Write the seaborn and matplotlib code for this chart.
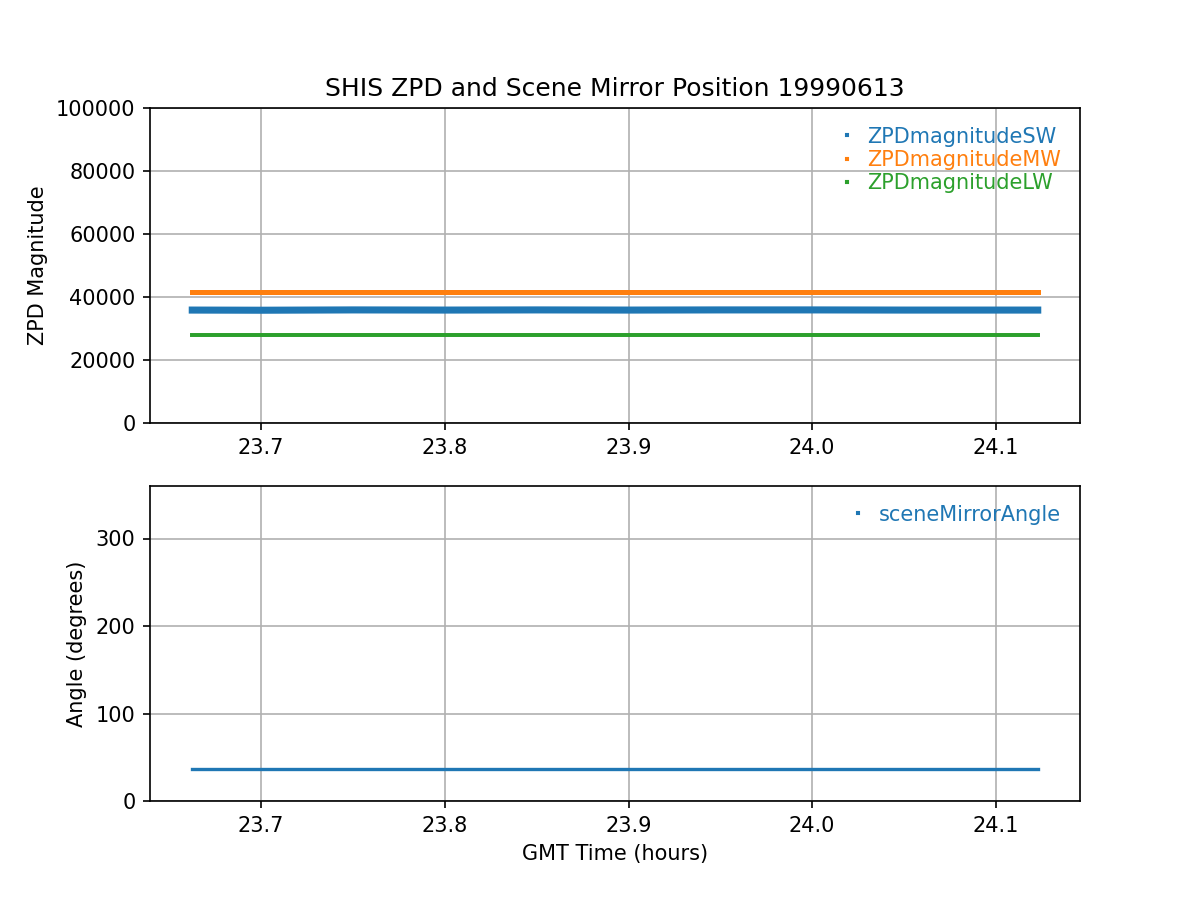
import numpy as np
import pandas as pd
import matplotlib
matplotlib.use("Agg")
import matplotlib.pyplot as plt
from matplotlib.lines import Line2D
import seaborn as sns
color = sns.color_palette()

# GMT time samples (hours)
time_hours = [23.6625, 23.70, 23.75, 23.80, 23.85, 23.90, 23.95, 24.00, 24.05, 24.1228]

zpd_sw = [35850, 35800, 35900, 35850, 35900, 35850, 35900, 35900, 35850, 35850]
zpd_mw = [41450, 41450, 41450, 41450, 41450, 41450, 41450, 41450, 41450, 41450]
zpd_lw = [28050, 28050, 28050, 28050, 28050, 28050, 28050, 28050, 28050, 28050]
mirror_angle = [36.5, 36.5, 36.5, 36.5, 36.5, 36.5, 36.5, 36.5, 36.5, 36.5]

zpd_names = ["ZPDmagnitudeSW", "ZPDmagnitudeMW", "ZPDmagnitudeLW"]
zpd_values = [zpd_sw, zpd_mw, zpd_lw]
widths = [3.4, 2.4, 1.9]

fig, (ax1, ax2) = plt.subplots(2, 1, figsize=(8, 6), dpi=150)

for i, (name, vals) in enumerate(zip(zpd_names, zpd_values)):
    sns.lineplot(x=time_hours, y=vals, ax=ax1, color=color[i], linewidth=widths[i], legend=False)

leg_kw = dict(loc='upper right', frameon=False, handlelength=0.4, handletextpad=0.8, labelspacing=0.15)

handles = [Line2D([], [], marker='s', markersize=1.2, linestyle='none', color=color[i]) for i in range(3)]
ax1.legend(handles, zpd_names, labelcolor=color[:3], **leg_kw)
ax1.set_ylim(0, 100000)
ax1.set_ylabel('ZPD Magnitude')
ax1.set_title('SHIS ZPD and Scene Mirror Position 19990613')
ax1.grid(True)

sns.lineplot(x=time_hours, y=mirror_angle, ax=ax2, color=color[0], linewidth=1.6, legend=False)
h2 = [Line2D([], [], marker='s', markersize=1.2, linestyle='none', color=color[0])]
ax2.legend(h2, ['sceneMirrorAngle'], labelcolor=[color[0]], **leg_kw)
ax2.set_ylim(0, 360)
ax2.set_yticks([0, 100, 200, 300])
ax2.set_ylabel('Angle (degrees)')
ax2.set_xlabel('GMT Time (hours)')
ax2.grid(True)

for ax in (ax1, ax2):
    ax.set_xticks([23.7, 23.8, 23.9, 24.0, 24.1])

plt.savefig('out.png', dpi=150)
